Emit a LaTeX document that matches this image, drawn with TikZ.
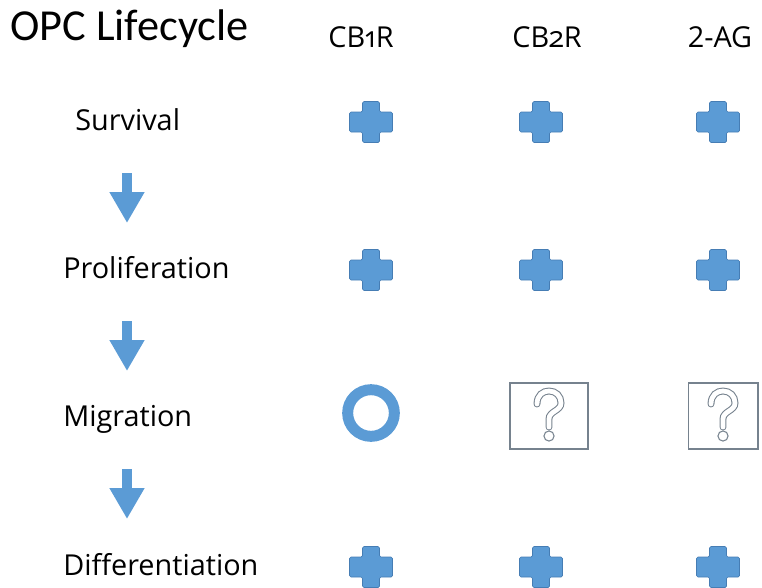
\documentclass[tikz,border=0pt]{standalone}
\usepackage{fontspec}
\usepackage{xcolor}
\usepackage{tikz}
\usetikzlibrary{arrows.meta, positioning}
\newfontfamily\titlefont{Carlito}
\newfontfamily\labelfont{Open Sans}
\newfontfamily\labelold[Numbers=OldStyle]{Open Sans}
\definecolor{plusblue}{RGB}{91, 155, 213}
\definecolor{plusedge}{RGB}{70, 125, 180}
\definecolor{boxgray}{RGB}{118, 130, 142}

\tikzset{
    rowlabel/.style={anchor=base west, inner sep=0pt, font=\labelfont\fontsize{20.5}{24}\selectfont},
    collabel/.style={anchor=base, inner sep=0pt, font=\labelfont\fontsize{20.5}{24}\selectfont},
    flow/.style={plusblue, line width=7.1pt, -{Triangle[length=22pt, width=23.4pt]}},
    unknownbox/.style={draw=boxgray, line width=0.9pt, inner sep=0pt},
    pics/plus/.style={code={
        \filldraw[fill=plusblue, draw=plusedge, line width=0.4pt, rounded corners=1pt]
            (-8.5,-20.5) -- (8.5,-20.5) -- (8.5,-10) -- (21.5,-10) -- (21.5,10) -- (8.5,10)
            -- (8.5,20.5) -- (-8.5,20.5) -- (-8.5,10) -- (-21.5,10) -- (-21.5,-10) -- (-8.5,-10) -- cycle;
    }},
    pics/query/.style={code={
        \draw[boxgray, line width=0.75pt, double=white, double distance=3.4pt, line cap=round]
            (-12,-12) .. controls (-12,-21) and (-6,-25) .. (0,-25)
            .. controls (7,-25) and (12,-20) .. (12,-13)
            .. controls (12,-5) and (0,-5) .. (0,3) -- (0,11);
        \draw[boxgray, line width=0.75pt] (0,20) circle (3.6pt);
    }}
}

\begin{document}
\begin{tikzpicture}[x=0.025cm, y=-0.025cm]
        \useasboundingbox (0,0) rectangle (762,587);

        % Title and column heads
        \node[anchor=base west, inner sep=0pt, font=\titlefont\fontsize{31.5}{36}\selectfont] (title) at (10,40) {OPC Lifecycle};
        \node[collabel] (cbone) at (361,47) {CB{\labelold 1}R};
        \node[collabel] (cbtwo) at (547,47) {CB{\labelold 2}R};
        \node[collabel] (twoag) at (720,47) {2-AG};

        % Lifecycle stages
        \node[rowlabel] (survival) at (75,130) {Survival};
        \node[rowlabel] (prolif) at (63,278.3) {Proliferation};
        \node[rowlabel] (migr) at (63,426.7) {Migration};
        \node[rowlabel] (diff) at (63,575) {Differentiation};

        % Arrows between stages
        \coordinate (flowa) at (127,173);
        \coordinate (flowb) at (127,223);
        \coordinate (flowc) at (127,321);
        \coordinate (flowd) at (127,371);
        \coordinate (flowe) at (127,469);
        \coordinate (flowf) at (127,519);
        \draw[flow] (flowa) -- (flowb);
        \draw[flow] (flowc) -- (flowd);
        \draw[flow] (flowe) -- (flowf);

        % Survival row
        \pic at (371,122) {plus};
        \pic at (541,122) {plus};
        \pic at (718,122) {plus};

        % Proliferation row
        \pic at (371,270) {plus};
        \pic at (541,270) {plus};
        \pic at (718,270) {plus};

        % Migration row
        \draw[plusblue, line width=7.8pt] (371,413) circle (16.6pt);
        \node[unknownbox, minimum width=55.3pt, minimum height=46.8pt] (qcbtwo) at (549,416) {};
        \pic at (qcbtwo.center) {query};
        \node[unknownbox, minimum width=49.6pt, minimum height=46.8pt] (qtwoag) at (723,416) {};
        \pic at (qtwoag.center) {query};

        % Differentiation row
        \pic at (371,567) {plus};
        \pic at (541,567) {plus};
        \pic at (718,567) {plus};
    \end{tikzpicture}
\end{document}
